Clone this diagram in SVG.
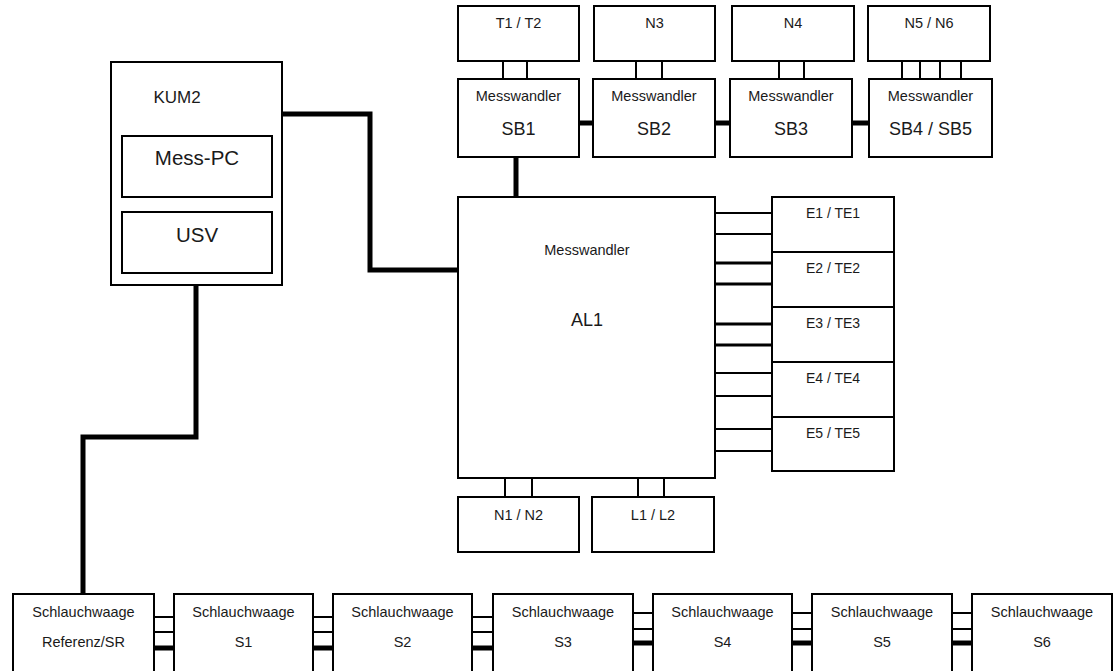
<svg xmlns="http://www.w3.org/2000/svg" width="1120" height="671" viewBox="0 0 1120 671">
<style>
.b{fill:#fff;stroke:#000;stroke-width:2}
.t{font-family:"Liberation Sans",Arial,sans-serif;fill:#1a1a1a;text-anchor:middle}
.s{font-size:14.5px}
.l{font-size:18px}
.xl{font-size:20.5px}
.th{fill:none;stroke:#000;stroke-width:5}
.tn{fill:none;stroke:#000;stroke-width:2}
.tm{fill:none;stroke:#000;stroke-width:3}
</style>
<rect width="1120" height="671" fill="#fff"/>
<g id="connectors">
<path class="th" d="M282 114H370V270H458"/>
<path class="th" d="M196 285V437H83V594"/>
<path class="th" d="M516 157V197"/>
<path class="th" d="M579 123H593M715 123H730M852 123H869"/>
<path class="tn" d="M503 61V79M527 61V79M636 61V79M662 61V79M779 61V79M804 61V79M902 61V79M920 61V79M940 61V79M961 61V79"/>
<path class="tn" d="M505 478V497M532 478V497M638 478V497M664 478V497"/>
<path class="tn" d="M715 213H772M715 234H774"/>
<path class="tm" d="M715 263H772M715 284H774M715 324H772M715 345H774"/>
<path class="tn" d="M715 373H772M715 396H774M715 429H772M715 451H774"/>
<path class="tn" d="M154 617H174M154 632H174M313 617H333M313 632H333M472 617H493M472 632H493"/>
<path class="th" d="M154 648H174M313 648H333M472 648H493"/>
<path class="tn" d="M633 613H653M633 629H653M792 613H812M792 629H812M952 613H972M952 629H972"/>
<path class="th" d="M633 643H653M792 643H812M952 643H972"/>
</g>
<g id="KUM2">
<rect class="b" x="111" y="62" width="171" height="223"/>
<text class="t" x="177" y="103" font-size="17">KUM2</text>
</g>
<g id="MessPC">
<rect class="b" x="122" y="136" width="150" height="61"/>
<text class="t xl" x="197" y="165">Mess-PC</text>
</g>
<g id="USV">
<rect class="b" x="122" y="212" width="150" height="61"/>
<text class="t xl" x="197" y="242">USV</text>
</g>
<g id="T1T2"><rect class="b" x="458" y="6" width="121" height="55"/><text class="t s" x="518.5" y="28">T1 / T2</text></g>
<g id="N3"><rect class="b" x="594" y="6" width="121" height="55"/><text class="t s" x="654.5" y="28">N3</text></g>
<g id="N4"><rect class="b" x="732" y="6" width="122" height="55"/><text class="t s" x="793" y="28">N4</text></g>
<g id="N5N6"><rect class="b" x="868" y="6" width="122" height="55"/><text class="t s" x="929" y="28">N5 / N6</text></g>
<g id="SB1"><rect class="b" x="458" y="79" width="121" height="78"/><text class="t s" x="518.5" y="101">Messwandler</text><text class="t l" x="518.5" y="135">SB1</text></g>
<g id="SB2"><rect class="b" x="593" y="79" width="122" height="78"/><text class="t s" x="654" y="101">Messwandler</text><text class="t l" x="654" y="135">SB2</text></g>
<g id="SB3"><rect class="b" x="730" y="79" width="122" height="78"/><text class="t s" x="791" y="101">Messwandler</text><text class="t l" x="791" y="135">SB3</text></g>
<g id="SB4SB5"><rect class="b" x="869" y="79" width="123" height="78"/><text class="t s" x="930.5" y="101">Messwandler</text><text class="t l" x="930.5" y="135">SB4 / SB5</text></g>
<g id="AL1"><rect class="b" x="458" y="197" width="257" height="281"/><text class="t s" x="587" y="255">Messwandler</text><text class="t l" x="587" y="326">AL1</text></g>
<g id="E1TE1"><rect class="b" x="772" y="197" width="122" height="55"/><text class="t" font-size="14" x="833" y="218">E1 / TE1</text></g>
<g id="E2TE2"><rect class="b" x="772" y="252" width="122" height="55"/><text class="t" font-size="14" x="833" y="273">E2 / TE2</text></g>
<g id="E3TE3"><rect class="b" x="772" y="307" width="122" height="55"/><text class="t" font-size="14" x="833" y="328">E3 / TE3</text></g>
<g id="E4TE4"><rect class="b" x="772" y="362" width="122" height="55"/><text class="t" font-size="14" x="833" y="383">E4 / TE4</text></g>
<g id="E5TE5"><rect class="b" x="772" y="417" width="122" height="54"/><text class="t" font-size="14" x="833" y="438">E5 / TE5</text></g>
<g id="N1N2"><rect class="b" x="458" y="497" width="121" height="55"/><text class="t s" x="518.5" y="520">N1 / N2</text></g>
<g id="L1L2"><rect class="b" x="592" y="497" width="122" height="55"/><text class="t s" x="653" y="520">L1 / L2</text></g>
<g id="SR"><rect class="b" x="13" y="594" width="141" height="80"/><text class="t s" x="83.5" y="617">Schlauchwaage</text><text class="t s" x="83.5" y="647">Referenz/SR</text></g>
<g id="S1"><rect class="b" x="174" y="594" width="139" height="80"/><text class="t s" x="243.5" y="617">Schlauchwaage</text><text class="t s" x="243.5" y="647">S1</text></g>
<g id="S2"><rect class="b" x="333" y="594" width="139" height="80"/><text class="t s" x="402.5" y="617">Schlauchwaage</text><text class="t s" x="402.5" y="647">S2</text></g>
<g id="S3"><rect class="b" x="493" y="594" width="140" height="80"/><text class="t s" x="563" y="617">Schlauchwaage</text><text class="t s" x="563" y="647">S3</text></g>
<g id="S4"><rect class="b" x="653" y="594" width="139" height="80"/><text class="t s" x="722.5" y="617">Schlauchwaage</text><text class="t s" x="722.5" y="647">S4</text></g>
<g id="S5"><rect class="b" x="812" y="594" width="140" height="80"/><text class="t s" x="882" y="617">Schlauchwaage</text><text class="t s" x="882" y="647">S5</text></g>
<g id="S6"><rect class="b" x="972" y="594" width="140" height="80"/><text class="t s" x="1042" y="617">Schlauchwaage</text><text class="t s" x="1042" y="647">S6</text></g>
</svg>
